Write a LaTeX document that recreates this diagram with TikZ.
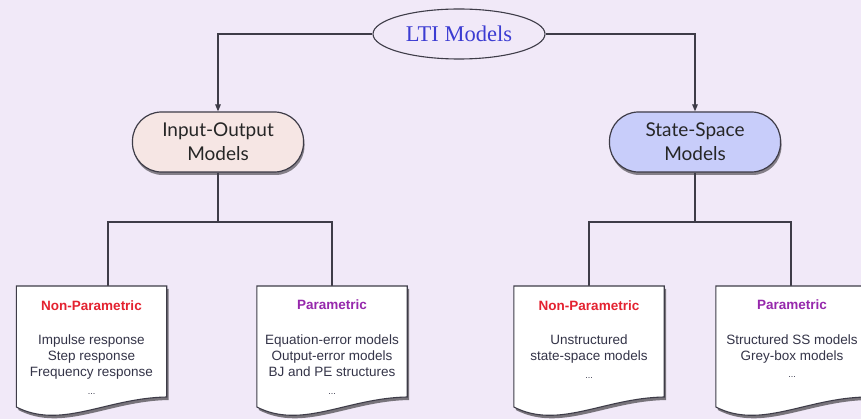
\documentclass[tikz,border=0pt]{standalone}
\usepackage{fontspec}
\setmainfont{Liberation Sans}
\newfontfamily\serifx{Liberation Serif}
\newfontfamily\humsans{Lato}
\usetikzlibrary{shapes.geometric,arrows.meta,shadows,calc}
\definecolor{bg}{RGB}{241,233,248}
\definecolor{linec}{RGB}{62,60,72}
\definecolor{iofill}{RGB}{246,230,228}
\definecolor{ssfill}{RGB}{200,205,250}
\definecolor{ltiblue}{RGB}{60,60,210}
\definecolor{npred}{RGB}{228,34,48}
\definecolor{ppurple}{RGB}{150,40,172}
\definecolor{doctxt}{RGB}{52,52,72}
\tikzset{
  conn/.style={draw=linec, line width=1.2pt},
  arr/.style={conn, -{Triangle[length=7pt,width=5.5pt]}},
  ltinode/.style={ellipse, draw=linec, line width=1.1pt, fill=bg, minimum width=172pt, minimum height=50pt, inner sep=0pt, font=\serifx\fontsize{22.5}{26}\selectfont, text=ltiblue},
  modelbox/.style={rectangle, rounded corners=29pt, draw=linec, line width=1.2pt, minimum width=171pt, minimum height=60pt, align=center, font=\humsans\fontsize{19}{24}\selectfont, text=black!85, drop shadow={shadow xshift=1pt, shadow yshift=-3pt, fill=black, opacity=0.45}},
  docbox/.style={rectangle, minimum width=150pt, minimum height=122pt, inner sep=0pt, anchor=north},
  docline/.style={draw=linec, line width=1.1pt, fill=white, drop shadow={shadow xshift=2pt, shadow yshift=-3pt, fill=black, opacity=0.5}},
  doctitle/.style={anchor=base, inner sep=0pt, font=\bfseries\fontsize{13.5}{16}\selectfont},
  docbody/.style={anchor=north, inner sep=0pt, align=center, text=doctxt, font=\fontsize{13.5}{16}\selectfont},
  docdots/.style={anchor=base, inner sep=0pt, text=doctxt, font=\fontsize{9}{10}\selectfont},
}
\newcommand\docoutline[1]{%
  \filldraw[docline] (#1.north west) -- (#1.north east) -- ($(#1.north east)+(0,111)$)
    .. controls ($(#1.north west)+(90,112)$) and ($(#1.north west)+(45,144)$) ..
    ($(#1.north west)+(0,121)$) -- cycle;}
\begin{document}
\begin{tikzpicture}[x=1pt,y=-1pt]
\fill[bg] (0,0) rectangle (861,419);
\useasboundingbox (0,0) rectangle (861,419);

\node[ltinode] (lti) at (459,34) {LTI Models};
\node[modelbox, fill=iofill] (io) at (218,142) {Input-Output\\Models};
\node[modelbox, fill=ssfill] (ss) at (695,142) {State-Space\\Models};

\draw[arr] (lti.west) -| (io.north);
\draw[arr] (lti.east) -| (ss.north);

\node[docbox] (d1) at (91.5,286) {};
\node[docbox] (d2) at (332,286) {};
\node[docbox] (d3) at (589,286) {};
\node[docbox] (d4) at (791,286) {};

\coordinate (jl) at (218,222);
\coordinate (jr) at (695,222);
\coordinate (d1in) at (108,286);
\draw[conn] (io.south) -- (jl);
\draw[conn] (jl) -| (d1in);
\draw[conn] (jl) -| (d2.north);
\draw[conn] (ss.south) -- (jr);
\draw[conn] (jr) -| (d3.north);
\draw[conn] (jr) -| (d4.north);

\docoutline{d1}
\docoutline{d2}
\docoutline{d3}
\docoutline{d4}

\node[doctitle, text=npred] (t1) at ($(d1.north)+(0,24)$) {Non-Parametric};
\node[docbody] (b1) at ($(d1.north)+(0,49)$) {Impulse response\\Step response\\Frequency response};
\node[docdots] (p1) at ($(d1.north)+(0,108)$) {...};

\node[doctitle, text=ppurple] (t2) at ($(d2.north)+(0,23)$) {Parametric};
\node[docbody] (b2) at ($(d2.north)+(0,49)$) {Equation-error models\\Output-error models\\BJ and PE structures};
\node[docdots] (p2) at ($(d2.north)+(0,108)$) {...};

\node[doctitle, text=npred] (t3) at ($(d3.north)+(0,24)$) {Non-Parametric};
\node[docbody] (b3) at ($(d3.north)+(0,49)$) {Unstructured\\state-space models};
\node[docdots] (p3) at ($(d3.north)+(0,92)$) {...};

\node[doctitle, text=ppurple] (t4) at ($(d4.north)+(1,23)$) {Parametric};
\node[docbody] (b4) at ($(d4.north)+(1,49)$) {Structured SS models\\Grey-box models};
\node[docdots] (p4) at ($(d4.north)+(1,91)$) {...};
\end{tikzpicture}
\end{document}
